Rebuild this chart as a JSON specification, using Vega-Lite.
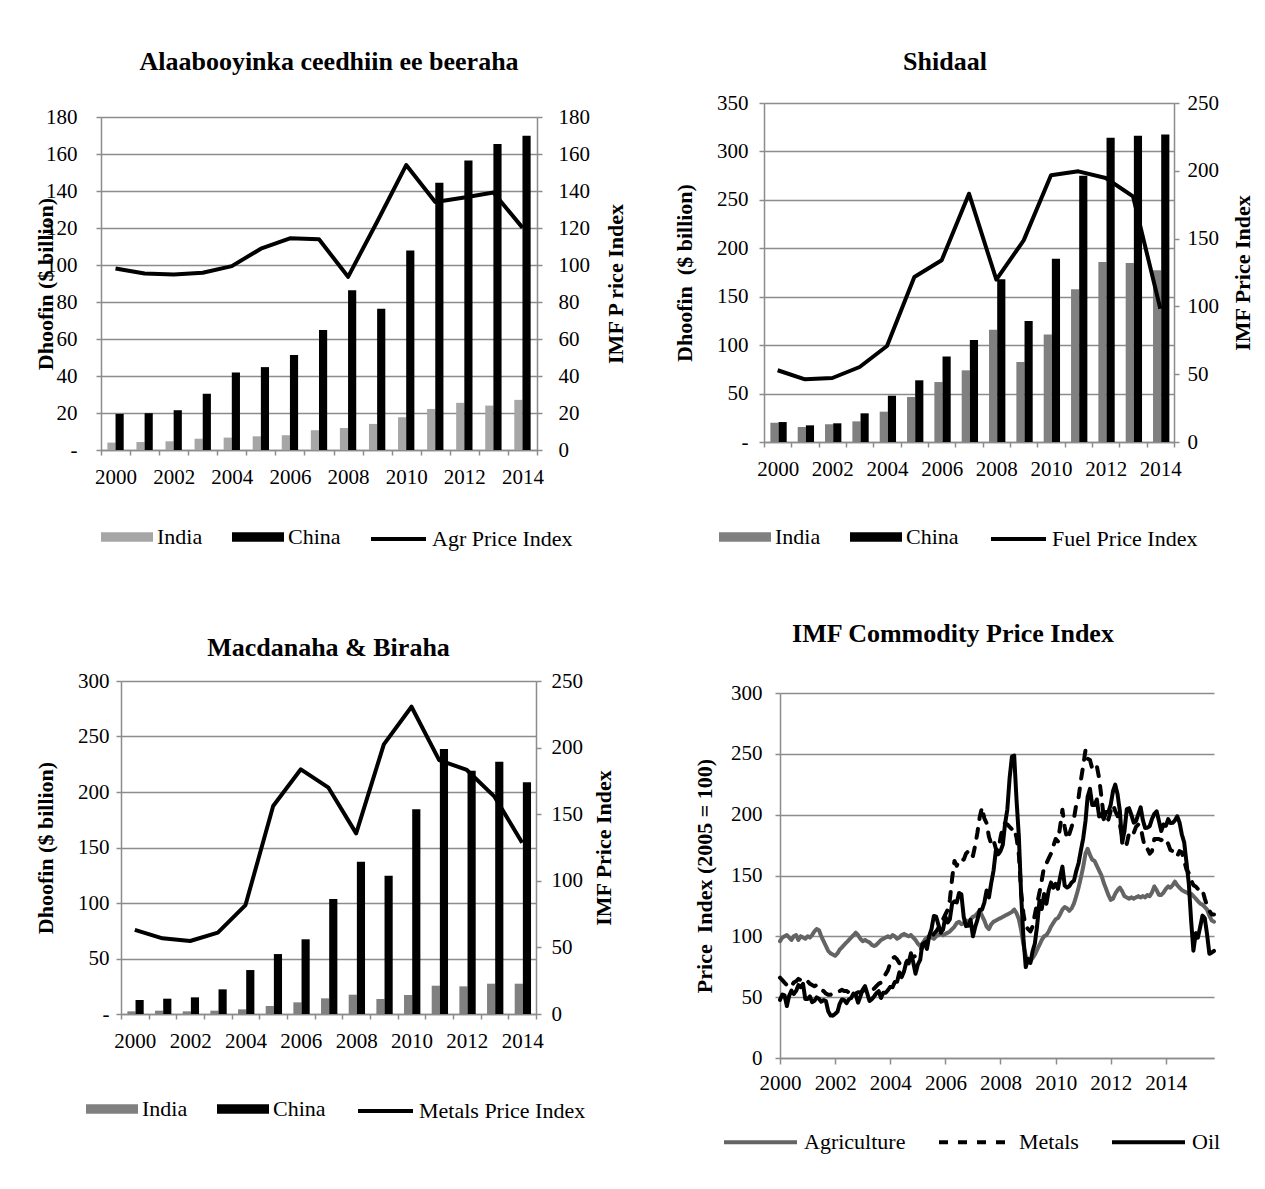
{
"$schema": "https://vega.github.io/schema/vega-lite/v6.json",
"background": "white",
"padding": 0,
"config": {
  "font": "Liberation Serif",
  "view": {"stroke": null},
  "axis": {"labelFont": "Liberation Serif", "labelFontSize": 21, "labelColor": "#000000", "titleFont": "Liberation Serif", "titleFontSize": 22, "titleFontWeight": "bold", "titleColor": "#000000", "domainColor": "#8c8c8c", "domainWidth": 1.5, "tickColor": "#8c8c8c", "tickWidth": 1.5, "tickSize": 5, "gridColor": "#8c8c8c", "gridWidth": 1.3, "labelFlush": false},
  "legend": {"labelFont": "Liberation Serif", "labelFontSize": 22, "labelColor": "#000000", "labelLimit": 400},
  "title": {"font": "Liberation Serif", "fontSize": 26, "fontWeight": "bold", "color": "#000000"}
},
"datasets": {
  "none": [],
  "tlBars": [
    {"year":2000,"series":"India","value":4.0},{"year":2000,"series":"China","value":19.5},
    {"year":2001,"series":"India","value":4.3},{"year":2001,"series":"China","value":19.9},
    {"year":2002,"series":"India","value":4.7},{"year":2002,"series":"China","value":21.5},
    {"year":2003,"series":"India","value":6.1},{"year":2003,"series":"China","value":30.4},
    {"year":2004,"series":"India","value":6.7},{"year":2004,"series":"China","value":41.9},
    {"year":2005,"series":"India","value":7.4},{"year":2005,"series":"China","value":44.8},
    {"year":2006,"series":"India","value":8.0},{"year":2006,"series":"China","value":51.3},
    {"year":2007,"series":"India","value":10.7},{"year":2007,"series":"China","value":64.9},
    {"year":2008,"series":"India","value":11.9},{"year":2008,"series":"China","value":86.4},
    {"year":2009,"series":"India","value":14.1},{"year":2009,"series":"China","value":76.4},
    {"year":2010,"series":"India","value":17.7},{"year":2010,"series":"China","value":107.9},
    {"year":2011,"series":"India","value":22.2},{"year":2011,"series":"China","value":144.4},
    {"year":2012,"series":"India","value":25.5},{"year":2012,"series":"China","value":156.5},
    {"year":2013,"series":"India","value":24.0},{"year":2013,"series":"China","value":165.4},
    {"year":2014,"series":"India","value":27.1},{"year":2014,"series":"China","value":169.9}
  ],
  "tlLine": [
    {"year":2000,"name":"Agr Price Index","v":98.1},{"year":2001,"name":"Agr Price Index","v":95.4},
    {"year":2002,"name":"Agr Price Index","v":94.9},{"year":2003,"name":"Agr Price Index","v":95.8},
    {"year":2004,"name":"Agr Price Index","v":99.4},{"year":2005,"name":"Agr Price Index","v":108.8},
    {"year":2006,"name":"Agr Price Index","v":114.4},{"year":2007,"name":"Agr Price Index","v":113.9},
    {"year":2008,"name":"Agr Price Index","v":93.6},{"year":2009,"name":"Agr Price Index","v":123.4},
    {"year":2010,"name":"Agr Price Index","v":154.0},{"year":2011,"name":"Agr Price Index","v":134.1},
    {"year":2012,"name":"Agr Price Index","v":136.5},{"year":2013,"name":"Agr Price Index","v":139.2},
    {"year":2014,"name":"Agr Price Index","v":120.2}
  ],
  "trBars": [
    {"year":2000,"series":"India","value":20.0},{"year":2000,"series":"China","value":20.6},
    {"year":2001,"series":"India","value":15.5},{"year":2001,"series":"China","value":17.2},
    {"year":2002,"series":"India","value":18.2},{"year":2002,"series":"China","value":19.3},
    {"year":2003,"series":"India","value":21.3},{"year":2003,"series":"China","value":29.6},
    {"year":2004,"series":"India","value":31.3},{"year":2004,"series":"China","value":47.8},
    {"year":2005,"series":"India","value":46.5},{"year":2005,"series":"China","value":63.7},
    {"year":2006,"series":"India","value":61.9},{"year":2006,"series":"China","value":88.4},
    {"year":2007,"series":"India","value":74.0},{"year":2007,"series":"China","value":105.3},
    {"year":2008,"series":"India","value":116.0},{"year":2008,"series":"China","value":168.0},
    {"year":2009,"series":"India","value":82.6},{"year":2009,"series":"China","value":124.9},
    {"year":2010,"series":"India","value":111.1},{"year":2010,"series":"China","value":189.3},
    {"year":2011,"series":"India","value":157.6},{"year":2011,"series":"China","value":275.0},
    {"year":2012,"series":"India","value":185.8},{"year":2012,"series":"China","value":314.2},
    {"year":2013,"series":"India","value":184.8},{"year":2013,"series":"China","value":316.2},
    {"year":2014,"series":"India","value":177.2},{"year":2014,"series":"China","value":317.6}
  ],
  "trLine": [
    {"year":2000,"name":"Fuel Price Index","v":52.9},{"year":2001,"name":"Fuel Price Index","v":46.2},
    {"year":2002,"name":"Fuel Price Index","v":47.2},{"year":2003,"name":"Fuel Price Index","v":55.3},
    {"year":2004,"name":"Fuel Price Index","v":70.8},{"year":2005,"name":"Fuel Price Index","v":121.7},
    {"year":2006,"name":"Fuel Price Index","v":134.0},{"year":2007,"name":"Fuel Price Index","v":183.1},
    {"year":2008,"name":"Fuel Price Index","v":119.7},{"year":2009,"name":"Fuel Price Index","v":148.7},
    {"year":2010,"name":"Fuel Price Index","v":196.7},{"year":2011,"name":"Fuel Price Index","v":199.6},
    {"year":2012,"name":"Fuel Price Index","v":194.7},{"year":2013,"name":"Fuel Price Index","v":181.2},
    {"year":2014,"name":"Fuel Price Index","v":98.3}
  ],
  "blBars": [
    {"year":2000,"series":"India","value":2.4},{"year":2000,"series":"China","value":12.6},
    {"year":2001,"series":"India","value":3.0},{"year":2001,"series":"China","value":13.8},
    {"year":2002,"series":"India","value":2.4},{"year":2002,"series":"China","value":15.0},
    {"year":2003,"series":"India","value":3.0},{"year":2003,"series":"China","value":22.2},
    {"year":2004,"series":"India","value":4.2},{"year":2004,"series":"China","value":39.6},
    {"year":2005,"series":"India","value":7.2},{"year":2005,"series":"China","value":54.0},
    {"year":2006,"series":"India","value":10.5},{"year":2006,"series":"China","value":67.3},
    {"year":2007,"series":"India","value":14.1},{"year":2007,"series":"China","value":103.6},
    {"year":2008,"series":"India","value":17.4},{"year":2008,"series":"China","value":137.2},
    {"year":2009,"series":"India","value":13.5},{"year":2009,"series":"China","value":124.6},
    {"year":2010,"series":"India","value":17.1},{"year":2010,"series":"China","value":184.4},
    {"year":2011,"series":"India","value":25.5},{"year":2011,"series":"China","value":238.7},
    {"year":2012,"series":"India","value":24.9},{"year":2012,"series":"China","value":219.2},
    {"year":2013,"series":"India","value":27.3},{"year":2013,"series":"China","value":227.3},
    {"year":2014,"series":"India","value":27.3},{"year":2014,"series":"China","value":208.7}
  ],
  "blLine": [
    {"year":2000,"name":"Metals Price Index","v":63.1},{"year":2001,"name":"Metals Price Index","v":56.8},
    {"year":2002,"name":"Metals Price Index","v":54.8},{"year":2003,"name":"Metals Price Index","v":61.1},
    {"year":2004,"name":"Metals Price Index","v":81.8},{"year":2005,"name":"Metals Price Index","v":156.2},
    {"year":2006,"name":"Metals Price Index","v":183.7},{"year":2007,"name":"Metals Price Index","v":169.9},
    {"year":2008,"name":"Metals Price Index","v":135.6},{"year":2009,"name":"Metals Price Index","v":202.4},
    {"year":2010,"name":"Metals Price Index","v":230.7},{"year":2011,"name":"Metals Price Index","v":190.6},
    {"year":2012,"name":"Metals Price Index","v":183.2},{"year":2013,"name":"Metals Price Index","v":163.2},
    {"year":2014,"name":"Metals Price Index","v":128.6}
  ],
  "brData": [
    {"date":"2000-01","Agriculture":96,"Metals":66,"Oil":47.8},{"date":"2000-02","Agriculture":99,"Metals":64,"Oil":52.1},{"date":"2000-03","Agriculture":100,"Metals":62,"Oil":51.5},{"date":"2000-04","Agriculture":101,"Metals":60,"Oil":42.7},{"date":"2000-05","Agriculture":99,"Metals":61,"Oil":51.1},{"date":"2000-06","Agriculture":97,"Metals":59,"Oil":55.4},{"date":"2000-07","Agriculture":100,"Metals":62,"Oil":52.6},{"date":"2000-08","Agriculture":101,"Metals":63,"Oil":55.1},{"date":"2000-09","Agriculture":97,"Metals":65,"Oil":59.9},{"date":"2000-10","Agriculture":100,"Metals":64,"Oil":58.2},{"date":"2000-11","Agriculture":99,"Metals":62,"Oil":60.9},{"date":"2000-12","Agriculture":98,"Metals":63,"Oil":48.5},
    {"date":"2001-01","Agriculture":100,"Metals":63,"Oil":48.5},{"date":"2001-02","Agriculture":99,"Metals":61,"Oil":50.6},{"date":"2001-03","Agriculture":101,"Metals":60,"Oil":45.9},{"date":"2001-04","Agriculture":104,"Metals":59,"Oil":47.0},{"date":"2001-05","Agriculture":106,"Metals":60,"Oil":49.8},{"date":"2001-06","Agriculture":105,"Metals":58,"Oil":48.7},{"date":"2001-07","Agriculture":100,"Metals":56,"Oil":46.3},{"date":"2001-08","Agriculture":96,"Metals":55,"Oil":47.6},{"date":"2001-09","Agriculture":92,"Metals":53,"Oil":46.8},{"date":"2001-10","Agriculture":88,"Metals":52,"Oil":38.4},{"date":"2001-11","Agriculture":86,"Metals":52,"Oil":35.0},{"date":"2001-12","Agriculture":85,"Metals":53,"Oil":34.8},
    {"date":"2002-01","Agriculture":84,"Metals":53,"Oil":36.3},{"date":"2002-02","Agriculture":86,"Metals":54,"Oil":38.0},{"date":"2002-03","Agriculture":89,"Metals":55,"Oil":44.4},{"date":"2002-04","Agriculture":91,"Metals":56,"Oil":48.1},{"date":"2002-05","Agriculture":93,"Metals":55,"Oil":47.6},{"date":"2002-06","Agriculture":95,"Metals":55,"Oil":45.1},{"date":"2002-07","Agriculture":97,"Metals":54,"Oil":48.1},{"date":"2002-08","Agriculture":99,"Metals":52,"Oil":49.3},{"date":"2002-09","Agriculture":101,"Metals":52,"Oil":53.0},{"date":"2002-10","Agriculture":103,"Metals":53,"Oil":51.7},{"date":"2002-11","Agriculture":101,"Metals":54,"Oil":45.5},{"date":"2002-12","Agriculture":98,"Metals":54,"Oil":50.6},
    {"date":"2003-01","Agriculture":96,"Metals":55,"Oil":56.2},{"date":"2003-02","Agriculture":97,"Metals":56,"Oil":59.0},{"date":"2003-03","Agriculture":96,"Metals":55,"Oil":53.4},{"date":"2003-04","Agriculture":95,"Metals":55,"Oil":46.8},{"date":"2003-05","Agriculture":93,"Metals":56,"Oil":48.3},{"date":"2003-06","Agriculture":92,"Metals":57,"Oil":50.6},{"date":"2003-07","Agriculture":93,"Metals":59,"Oil":53.2},{"date":"2003-08","Agriculture":95,"Metals":61,"Oil":54.9},{"date":"2003-09","Agriculture":97,"Metals":62,"Oil":49.4},{"date":"2003-10","Agriculture":98,"Metals":66,"Oil":53.6},{"date":"2003-11","Agriculture":99,"Metals":69,"Oil":53.6},{"date":"2003-12","Agriculture":100,"Metals":72,"Oil":55.8},
    {"date":"2004-01","Agriculture":99,"Metals":78,"Oil":58.4},{"date":"2004-02","Agriculture":101,"Metals":82,"Oil":58.2},{"date":"2004-03","Agriculture":100,"Metals":83,"Oil":62.4},{"date":"2004-04","Agriculture":98,"Metals":81,"Oil":62.7},{"date":"2004-05","Agriculture":99,"Metals":78,"Oil":70.4},{"date":"2004-06","Agriculture":101,"Metals":77,"Oil":66.5},{"date":"2004-07","Agriculture":102,"Metals":80,"Oil":71.0},{"date":"2004-08","Agriculture":101,"Metals":80,"Oil":78.8},{"date":"2004-09","Agriculture":100,"Metals":80,"Oil":77.7},{"date":"2004-10","Agriculture":101,"Metals":81,"Oil":86.1},{"date":"2004-11","Agriculture":99,"Metals":83,"Oil":78.5},{"date":"2004-12","Agriculture":97,"Metals":84,"Oil":69.3},
    {"date":"2005-01","Agriculture":94,"Metals":86,"Oil":76.8},{"date":"2005-02","Agriculture":92,"Metals":88,"Oil":80.7},{"date":"2005-03","Agriculture":94,"Metals":91,"Oil":93.4},{"date":"2005-04","Agriculture":97,"Metals":94,"Oil":94.8},{"date":"2005-05","Agriculture":99,"Metals":96,"Oil":89.7},{"date":"2005-06","Agriculture":100,"Metals":97,"Oil":100.4},{"date":"2005-07","Agriculture":99,"Metals":99,"Oil":106.0},{"date":"2005-08","Agriculture":98,"Metals":102,"Oil":116.7},{"date":"2005-09","Agriculture":100,"Metals":104,"Oil":116.1},{"date":"2005-10","Agriculture":101,"Metals":107,"Oil":109.4},{"date":"2005-11","Agriculture":102,"Metals":110,"Oil":103.0},{"date":"2005-12","Agriculture":101,"Metals":114,"Oil":105.6},
    {"date":"2006-01","Agriculture":102,"Metals":118,"Oil":116.1},{"date":"2006-02","Agriculture":103,"Metals":122,"Oil":111.4},{"date":"2006-03","Agriculture":104,"Metals":130,"Oil":114.0},{"date":"2006-04","Agriculture":106,"Metals":148,"Oil":127.2},{"date":"2006-05","Agriculture":108,"Metals":162,"Oil":128.7},{"date":"2006-06","Agriculture":111,"Metals":158,"Oil":127.9},{"date":"2006-07","Agriculture":112,"Metals":163,"Oil":135.6},{"date":"2006-08","Agriculture":110,"Metals":164,"Oil":134.5},{"date":"2006-09","Agriculture":111,"Metals":163,"Oil":115.9},{"date":"2006-10","Agriculture":113,"Metals":168,"Oil":108.4},{"date":"2006-11","Agriculture":112,"Metals":170,"Oil":108.8},{"date":"2006-12","Agriculture":114,"Metals":171,"Oil":113.5},
    {"date":"2007-01","Agriculture":116,"Metals":166,"Oil":100.0},{"date":"2007-02","Agriculture":117,"Metals":175,"Oil":107.9},{"date":"2007-03","Agriculture":119,"Metals":185,"Oil":113.5},{"date":"2007-04","Agriculture":121,"Metals":198,"Oil":121.9},{"date":"2007-05","Agriculture":117,"Metals":206,"Oil":121.9},{"date":"2007-06","Agriculture":113,"Metals":197,"Oil":127.7},{"date":"2007-07","Agriculture":108,"Metals":193,"Oil":137.6},{"date":"2007-08","Agriculture":106,"Metals":182,"Oil":132.0},{"date":"2007-09","Agriculture":110,"Metals":176,"Oil":144.0},{"date":"2007-10","Agriculture":112,"Metals":179,"Oil":153.9},{"date":"2007-11","Agriculture":113,"Metals":172,"Oil":170.6},{"date":"2007-12","Agriculture":114,"Metals":170,"Oil":167.4},
    {"date":"2008-01","Agriculture":115,"Metals":181,"Oil":170.0},{"date":"2008-02","Agriculture":116,"Metals":190,"Oil":175.3},{"date":"2008-03","Agriculture":117,"Metals":193,"Oil":192.1},{"date":"2008-04","Agriculture":118,"Metals":192,"Oil":204.3},{"date":"2008-05","Agriculture":119,"Metals":190,"Oil":230.0},{"date":"2008-06","Agriculture":120,"Metals":188,"Oil":247.8},{"date":"2008-07","Agriculture":122,"Metals":189,"Oil":248.5},{"date":"2008-08","Agriculture":119,"Metals":181,"Oil":212.0},{"date":"2008-09","Agriculture":114,"Metals":167,"Oil":181.6},{"date":"2008-10","Agriculture":105,"Metals":136,"Oil":134.1},{"date":"2008-11","Agriculture":93,"Metals":118,"Oil":98.1},{"date":"2008-12","Agriculture":84,"Metals":108,"Oil":74.7},
    {"date":"2009-01","Agriculture":81,"Metals":106,"Oil":81.3},{"date":"2009-02","Agriculture":80,"Metals":104,"Oil":78.1},{"date":"2009-03","Agriculture":82,"Metals":108,"Oil":87.5},{"date":"2009-04","Agriculture":85,"Metals":118,"Oil":94.2},{"date":"2009-05","Agriculture":89,"Metals":127,"Oil":108.8},{"date":"2009-06","Agriculture":93,"Metals":136,"Oil":129.4},{"date":"2009-07","Agriculture":97,"Metals":146,"Oil":122.5},{"date":"2009-08","Agriculture":100,"Metals":157,"Oil":134.8},{"date":"2009-09","Agriculture":101,"Metals":160,"Oil":126.8},{"date":"2009-10","Agriculture":104,"Metals":164,"Oil":137.8},{"date":"2009-11","Agriculture":108,"Metals":168,"Oil":144.2},{"date":"2009-12","Agriculture":111,"Metals":174,"Oil":139.9},
    {"date":"2010-01","Agriculture":114,"Metals":180,"Oil":143.1},{"date":"2010-02","Agriculture":115,"Metals":178,"Oil":139.1},{"date":"2010-03","Agriculture":118,"Metals":190,"Oil":148.5},{"date":"2010-04","Agriculture":122,"Metals":204,"Oil":157.3},{"date":"2010-05","Agriculture":124,"Metals":190,"Oil":141.8},{"date":"2010-06","Agriculture":123,"Metals":180,"Oil":140.1},{"date":"2010-07","Agriculture":121,"Metals":184,"Oil":141.2},{"date":"2010-08","Agriculture":123,"Metals":190,"Oil":144.2},{"date":"2010-09","Agriculture":127,"Metals":197,"Oil":145.7},{"date":"2010-10","Agriculture":133,"Metals":208,"Oil":153.6},{"date":"2010-11","Agriculture":140,"Metals":214,"Oil":160.1},{"date":"2010-12","Agriculture":148,"Metals":228,"Oil":170.4},
    {"date":"2011-01","Agriculture":157,"Metals":240,"Oil":180.3},{"date":"2011-02","Agriculture":168,"Metals":253,"Oil":194.8},{"date":"2011-03","Agriculture":172,"Metals":246,"Oil":214.6},{"date":"2011-04","Agriculture":167,"Metals":245,"Oil":221.2},{"date":"2011-05","Agriculture":163,"Metals":238,"Oil":207.9},{"date":"2011-06","Agriculture":162,"Metals":237,"Oil":207.9},{"date":"2011-07","Agriculture":158,"Metals":240,"Oil":212.5},{"date":"2011-08","Agriculture":154,"Metals":230,"Oil":198.5},{"date":"2011-09","Agriculture":150,"Metals":214,"Oil":200.4},{"date":"2011-10","Agriculture":144,"Metals":198,"Oil":196.4},{"date":"2011-11","Agriculture":139,"Metals":199,"Oil":202.1},{"date":"2011-12","Agriculture":134,"Metals":196,"Oil":202.1},
    {"date":"2012-01","Agriculture":130,"Metals":203,"Oil":208.2},{"date":"2012-02","Agriculture":131,"Metals":208,"Oil":219.5},{"date":"2012-03","Agriculture":135,"Metals":203,"Oil":224.7},{"date":"2012-04","Agriculture":138,"Metals":199,"Oil":216.7},{"date":"2012-05","Agriculture":140,"Metals":192,"Oil":203.2},{"date":"2012-06","Agriculture":137,"Metals":182,"Oil":177.0},{"date":"2012-07","Agriculture":133,"Metals":180,"Oil":186.3},{"date":"2012-08","Agriculture":132,"Metals":176,"Oil":204.5},{"date":"2012-09","Agriculture":131,"Metals":185,"Oil":205.2},{"date":"2012-10","Agriculture":132,"Metals":187,"Oil":199.8},{"date":"2012-11","Agriculture":131,"Metals":185,"Oil":193.4},{"date":"2012-12","Agriculture":132,"Metals":190,"Oil":194.6},
    {"date":"2013-01","Agriculture":133,"Metals":192,"Oil":200.4},{"date":"2013-02","Agriculture":132,"Metals":190,"Oil":206.0},{"date":"2013-03","Agriculture":133,"Metals":181,"Oil":195.9},{"date":"2013-04","Agriculture":132,"Metals":172,"Oil":189.1},{"date":"2013-05","Agriculture":134,"Metals":172,"Oil":189.3},{"date":"2013-06","Agriculture":133,"Metals":168,"Oil":190.6},{"date":"2013-07","Agriculture":136,"Metals":170,"Oil":196.4},{"date":"2013-08","Agriculture":141,"Metals":180,"Oil":200.7},{"date":"2013-09","Agriculture":138,"Metals":180,"Oil":202.8},{"date":"2013-10","Agriculture":134,"Metals":180,"Oil":194.9},{"date":"2013-11","Agriculture":134,"Metals":179,"Oil":186.5},{"date":"2013-12","Agriculture":136,"Metals":181,"Oil":191.9},
    {"date":"2014-01","Agriculture":139,"Metals":179,"Oil":190.8},{"date":"2014-02","Agriculture":141,"Metals":176,"Oil":196.3},{"date":"2014-03","Agriculture":140,"Metals":171,"Oil":193.1},{"date":"2014-04","Agriculture":142,"Metals":170,"Oil":193.3},{"date":"2014-05","Agriculture":145,"Metals":170,"Oil":195.3},{"date":"2014-06","Agriculture":142,"Metals":166,"Oil":198.7},{"date":"2014-07","Agriculture":140,"Metals":170,"Oil":193.6},{"date":"2014-08","Agriculture":138,"Metals":169,"Oil":183.7},{"date":"2014-09","Agriculture":137,"Metals":162,"Oil":177.2},{"date":"2014-10","Agriculture":136,"Metals":155,"Oil":160.9},{"date":"2014-11","Agriculture":135,"Metals":152,"Oil":143.4},{"date":"2014-12","Agriculture":135,"Metals":146,"Oil":113.7},
    {"date":"2015-01","Agriculture":133,"Metals":142,"Oil":88.2},{"date":"2015-02","Agriculture":131,"Metals":141,"Oil":102.6},{"date":"2015-03","Agriculture":129,"Metals":139,"Oil":98.9},{"date":"2015-04","Agriculture":127,"Metals":140,"Oil":107.7},{"date":"2015-05","Agriculture":126,"Metals":138,"Oil":117.0},{"date":"2015-06","Agriculture":124,"Metals":131,"Oil":114.8},{"date":"2015-07","Agriculture":122,"Metals":125,"Oil":101.7},{"date":"2015-08","Agriculture":117,"Metals":121,"Oil":85.6},{"date":"2015-09","Agriculture":113,"Metals":118,"Oil":86.7},{"date":"2015-10","Agriculture":112,"Metals":118,"Oil":88.0}
  ]
},
"columns": 4,
"align": "none",
"spacing": 0,
"resolve": {"scale": {"fill": "independent", "stroke": "independent", "strokeDash": "independent"}, "legend": {"fill": "independent", "stroke": "independent", "strokeDash": "independent"}},
"concat": [
  {"width": 1, "height": 48, "data": {"name": "none"}, "mark": "point", "view": {"fill": "#ffffff", "stroke": null}},
  {"width": 1, "height": 48, "data": {"name": "none"}, "mark": "point", "view": {"fill": "#ffffff", "stroke": null}},
  {"width": 1, "height": 48, "data": {"name": "none"}, "mark": "point", "view": {"fill": "#ffffff", "stroke": null}},
  {"width": 1, "height": 48, "data": {"name": "none"}, "mark": "point", "view": {"fill": "#ffffff", "stroke": null}},

  {"width": 33, "height": 1, "data": {"name": "none"}, "mark": "point", "view": {"fill": "#ffffff", "stroke": null}},
  {
    "width": 436, "height": 333,
    "title": {"text": "Alaabooyinka ceedhiin ee beeraha", "offset": 5.5, "dx": 10, "baseline": "bottom", "anchor": "middle"},
    "layer": [
      {
        "data": {"name": "tlBars"},
        "mark": {"type": "bar"},
        "encoding": {
          "x": {"field": "year", "type": "ordinal", "scale": {"paddingInner": 0, "paddingOuter": 0}, "axis": {"title": null, "tickBand": "extent", "labelExpr": "datum.value % 2 === 0 ? datum.label : ''", "labelAngle": 0, "labelPadding": 11, "labelOverlap": false, "grid": false}},
          "xOffset": {"field": "series", "type": "nominal", "scale": {"domain": ["India", "China"], "paddingOuter": 0.78, "paddingInner": 0}},
          "y": {"field": "value", "type": "quantitative", "scale": {"domain": [0, 180], "nice": false}, "axis": {"title": "Dhoofin ($ billion)", "values": [0,20,40,60,80,100,120,140,160,180], "labelExpr": "datum.value === 0 ? '-\u00a0\u00a0' : datum.label", "labelPadding": 19, "titleX": -44, "titleY": 166.5, "grid": true}},
          "fill": {"field": "series", "type": "nominal", "scale": {"domain": ["India", "China"], "range": ["#a6a6a6", "#000000"]}, "legend": {"orient": "none", "legendX": 0, "legendY": 394, "direction": "horizontal", "title": null, "symbolType": "M-1,-0.18H1V0.18H-1Z", "symbolSize": 2704, "symbolStrokeWidth": 0, "columnPadding": 29, "labelOffset": 4}}
        }
      },
      {
        "data": {"name": "tlLine"},
        "mark": {"type": "line", "strokeWidth": 4, "strokeJoin": "round"},
        "encoding": {
          "x": {"field": "year", "type": "ordinal"},
          "y": {"field": "v", "type": "quantitative", "scale": {"domain": [0, 180], "nice": false}, "axis": {"orient": "right", "title": "IMF P rice Index", "values": [0,20,40,60,80,100,120,140,160,180], "grid": false, "labelPadding": 16, "titleAngle": 270, "titleBaseline": "top", "titlePadding": 16}},
          "stroke": {"field": "name", "type": "nominal", "scale": {"range": ["#000000"]}, "legend": {"orient": "none", "legendX": 268, "legendY": 392.5, "direction": "horizontal", "title": null, "symbolType": "stroke", "symbolSize": 3025, "symbolStrokeWidth": 4, "labelOffset": 4}}
        }
      }
    ],
    "resolve": {"scale": {"y": "independent"}}
  },
  {"width": 12, "height": 1, "data": {"name": "none"}, "mark": "point", "view": {"fill": "#ffffff", "stroke": null}},
  {
    "width": 410, "height": 339,
    "title": {"text": "Shidaal", "offset": -8.5, "dx": -24, "baseline": "bottom", "anchor": "middle"},
    "layer": [
      {
        "data": {"name": "trBars"},
        "mark": {"type": "bar"},
        "encoding": {
          "x": {"field": "year", "type": "ordinal", "scale": {"paddingInner": 0, "paddingOuter": 0}, "axis": {"title": null, "tickBand": "extent", "labelExpr": "datum.value % 2 === 0 ? datum.label : ''", "labelAngle": 0, "labelPadding": 11, "labelOverlap": false, "grid": false}},
          "xOffset": {"field": "series", "type": "nominal", "scale": {"domain": ["India", "China"], "paddingOuter": 0.78, "paddingInner": 0}},
          "y": {"field": "value", "type": "quantitative", "scale": {"domain": [0, 350], "nice": false}, "axis": {"title": "Dhoofin\u00a0 ($ billion)", "values": [0,50,100,150,200,250,300,350], "labelExpr": "datum.value === 0 ? '-\u00a0\u00a0' : datum.label", "labelPadding": 11, "titlePadding": 20, "grid": true}},
          "fill": {"field": "series", "type": "nominal", "scale": {"domain": ["India", "China"], "range": ["#808080", "#000000"]}, "legend": {"orient": "none", "legendX": -45, "legendY": 408, "direction": "horizontal", "title": null, "symbolType": "M-1,-0.18H1V0.18H-1Z", "symbolSize": 2704, "symbolStrokeWidth": 0, "columnPadding": 29, "labelOffset": 4}}
        }
      },
      {
        "data": {"name": "trLine"},
        "mark": {"type": "line", "strokeWidth": 4, "strokeJoin": "round"},
        "encoding": {
          "x": {"field": "year", "type": "ordinal"},
          "y": {"field": "v", "type": "quantitative", "scale": {"domain": [0, 250], "nice": false}, "axis": {"orient": "right", "title": "IMF Price Index", "values": [0,50,100,150,200,250], "grid": false, "labelPadding": 8, "titleAngle": 270, "titleBaseline": "top", "titlePadding": 14}},
          "stroke": {"field": "name", "type": "nominal", "scale": {"range": ["#000000"]}, "legend": {"orient": "none", "legendX": 225, "legendY": 406.5, "direction": "horizontal", "title": null, "symbolType": "stroke", "symbolSize": 3025, "symbolStrokeWidth": 4, "labelOffset": 4}}
        }
      }
    ],
    "resolve": {"scale": {"y": "independent"}}
  },

  {"width": 1, "height": 1, "data": {"name": "none"}, "mark": "point", "view": {"fill": "#ffffff", "stroke": null}},
  {"width": 1, "height": 68.5, "data": {"name": "none"}, "mark": "point", "view": {"fill": "#ffffff", "stroke": null}},
  {"width": 1, "height": 1, "data": {"name": "none"}, "mark": "point", "view": {"fill": "#ffffff", "stroke": null}},
  {"width": 1, "height": 68.5, "data": {"name": "none"}, "mark": "point", "view": {"fill": "#ffffff", "stroke": null}},

  {"width": 34, "height": 1, "data": {"name": "none"}, "mark": "point", "view": {"fill": "#ffffff", "stroke": null}},
  {
    "width": 415, "height": 333,
    "title": {"text": "Macdanaha & Biraha", "offset": -16.5, "dx": 0, "baseline": "bottom", "anchor": "middle"},
    "layer": [
      {
        "data": {"name": "blBars"},
        "mark": {"type": "bar"},
        "encoding": {
          "x": {"field": "year", "type": "ordinal", "scale": {"paddingInner": 0, "paddingOuter": 0}, "axis": {"title": null, "tickBand": "extent", "labelExpr": "datum.value % 2 === 0 ? datum.label : ''", "labelAngle": 0, "labelPadding": 11, "labelOverlap": false, "grid": false}},
          "xOffset": {"field": "series", "type": "nominal", "scale": {"domain": ["India", "China"], "paddingOuter": 0.78, "paddingInner": 0}},
          "y": {"field": "value", "type": "quantitative", "scale": {"domain": [0, 300], "nice": false}, "axis": {"title": "Dhoofin ($ billion)", "values": [0,50,100,150,200,250,300], "labelExpr": "datum.value === 0 ? '-\u00a0\u00a0' : datum.label", "labelPadding": 7, "titlePadding": 20, "grid": true}},
          "fill": {"field": "series", "type": "nominal", "scale": {"domain": ["India", "China"], "range": ["#808080", "#000000"]}, "legend": {"orient": "none", "legendX": -35, "legendY": 402, "direction": "horizontal", "title": null, "symbolType": "M-1,-0.18H1V0.18H-1Z", "symbolSize": 2704, "symbolStrokeWidth": 0, "columnPadding": 29, "labelOffset": 4}}
        }
      },
      {
        "data": {"name": "blLine"},
        "mark": {"type": "line", "strokeWidth": 4, "strokeJoin": "round"},
        "encoding": {
          "x": {"field": "year", "type": "ordinal"},
          "y": {"field": "v", "type": "quantitative", "scale": {"domain": [0, 250], "nice": false}, "axis": {"orient": "right", "title": "IMF Price Index", "values": [0,50,100,150,200,250], "grid": false, "labelPadding": 10, "titleAngle": 270, "titleBaseline": "top", "titlePadding": 11}},
          "stroke": {"field": "name", "type": "nominal", "scale": {"range": ["#000000"]}, "legend": {"orient": "none", "legendX": 235, "legendY": 400.5, "direction": "horizontal", "title": null, "symbolType": "stroke", "symbolSize": 3025, "symbolStrokeWidth": 4, "labelOffset": 4}}
        }
      }
    ],
    "resolve": {"scale": {"y": "independent"}}
  },
  {"width": 46, "height": 1, "data": {"name": "none"}, "mark": "point", "view": {"fill": "#ffffff", "stroke": null}},
  {
    "width": 434, "height": 365,
    "title": {"text": "IMF Commodity Price Index", "offset": 9.5, "dx": -44, "baseline": "bottom", "anchor": "middle"},
    "data": {"name": "brData"},
    "transform": [{"fold": ["Agriculture", "Metals", "Oil"], "as": ["series", "value"]}],
    "mark": {"type": "line", "strokeWidth": 4, "strokeJoin": "round", "strokeCap": "round"},
    "encoding": {
      "x": {"field": "date", "type": "temporal", "scale": {"type": "utc", "domain": [{"year": 2000, "month": 1, "date": 1, "utc": true}, {"year": 2015, "month": 10, "date": 1, "utc": true}]}, "axis": {"title": null, "format": "%Y", "formatType": "utc", "values": [{"year": 2000, "month": 1, "date": 1, "utc": true}, {"year": 2002, "month": 1, "date": 1, "utc": true}, {"year": 2004, "month": 1, "date": 1, "utc": true}, {"year": 2006, "month": 1, "date": 1, "utc": true}, {"year": 2008, "month": 1, "date": 1, "utc": true}, {"year": 2010, "month": 1, "date": 1, "utc": true}, {"year": 2012, "month": 1, "date": 1, "utc": true}, {"year": 2014, "month": 1, "date": 1, "utc": true}], "grid": false, "labelPadding": 8, "tickSize": 6, "labelOverlap": false, "labelFlush": false}},
      "y": {"field": "value", "type": "quantitative", "scale": {"domain": [0, 300], "nice": false}, "axis": {"title": "Price\u00a0 Index (2005 = 100)", "values": [0,50,100,150,200,250,300], "labelPadding": 13, "titlePadding": 14, "grid": true}},
      "stroke": {"field": "series", "type": "nominal", "scale": {"domain": ["Agriculture", "Metals", "Oil"], "range": ["#646464", "#000000", "#000000"]}, "legend": {"orient": "none", "legendX": -58, "legendY": 410.5, "direction": "horizontal", "title": null, "symbolType": "stroke", "symbolSize": 5329, "symbolStrokeWidth": 4, "columnPadding": 25, "labelOffset": 5}},
      "strokeDash": {"field": "series", "type": "nominal", "scale": {"domain": ["Agriculture", "Metals", "Oil"], "range": [[1, 0], [9, 10], [1, 0]]}, "legend": {"orient": "none", "legendX": -58, "legendY": 410.5, "direction": "horizontal", "title": null, "symbolType": "stroke", "symbolSize": 5329, "symbolStrokeWidth": 4, "columnPadding": 25, "labelOffset": 5}}
    }
  }
]
}
